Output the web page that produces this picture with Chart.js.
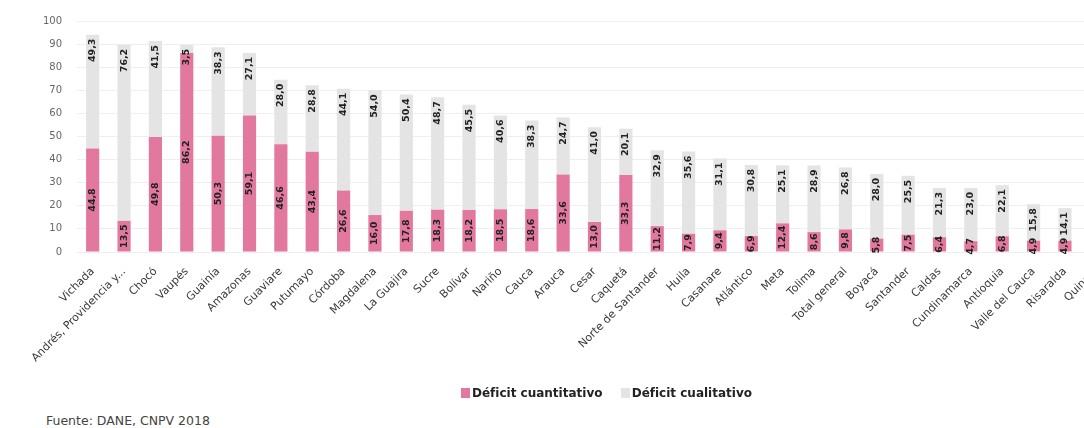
<!DOCTYPE html>
<html lang="es">
<head>
<meta charset="utf-8">
<script src="https://cdn.jsdelivr.net/npm/chart.js@4.4.1/dist/chart.umd.min.js"></script>
<style>
    html, body { margin: 0; padding: 0; background: #fff; overflow: hidden; width: 1084px; height: 428px; }
    #wrap { position: absolute; left: 0; top: 0; width: 1112px; height: 400px; }
    .legend { position: absolute; top: 386px; left: 461px; font: bold 12px "DejaVu Sans", sans-serif; color: #222; white-space: nowrap; }
    .legend span.box { display: inline-block; width: 9px; height: 10px; margin-right: 2px; vertical-align: -1px; }
    .legend span.item { margin-right: 14px; }
    .source { position: absolute; left: 46px; top: 413px; font: 12.5px "DejaVu Sans", sans-serif; color: #444; }
</style>
</head>
<body>
<div id="wrap"><canvas id="deficitChart" width="1112" height="400"></canvas></div>
<div class="legend">
    <span class="item"><span class="box" style="background:#e3789f"></span>Déficit cuantitativo</span>
    <span class="item"><span class="box" style="background:#e4e4e4"></span>Déficit cualitativo</span>
</div>
<div class="source">Fuente: DANE, CNPV 2018</div>
<script>
const departamentos = ['Vichada', 'Andrés, Providencia y...', 'Chocó', 'Vaupés', 'Guainía', 'Amazonas', 'Guaviare',
    'Putumayo', 'Córdoba', 'Magdalena', 'La Guajira', 'Sucre', 'Bolívar', 'Nariño', 'Cauca', 'Arauca', 'Cesar',
    'Caquetá', 'Norte de Santander', 'Huila', 'Casanare', 'Atlántico', 'Meta', 'Tolima', 'Total general', 'Boyacá',
    'Santander', 'Caldas', 'Cundinamarca', 'Antioquia', 'Valle del Cauca', 'Risaralda', 'Quindío'];

const cuantitativo = [44.8, 13.5, 49.8, 86.2, 50.3, 59.1, 46.6, 43.4, 26.6, 16.0, 17.8, 18.3, 18.2, 18.5, 18.6, 33.6, 13.0,
    33.3, 11.2, 7.9, 9.4, 6.9, 12.4, 8.6, 9.8, 5.8, 7.5, 6.4, 4.7, 6.8, 4.9, 4.9, 4.3];

const cualitativo = [49.3, 76.2, 41.5, 3.5, 38.3, 27.1, 28.0, 28.8, 44.1, 54.0, 50.4, 48.7, 45.5, 40.6, 38.3, 24.7, 41.0,
    20.1, 32.9, 35.6, 31.1, 30.8, 25.1, 28.9, 26.8, 28.0, 25.5, 21.3, 23.0, 22.1, 15.8, 14.1, 16.0];

const yTicks = [0, 10, 20, 30, 40, 50, 60, 70, 80, 90, 100];

// value labels written vertically on each segment
const valueLabels = {
    id: 'valueLabels',
    afterDatasetsDraw(chart) {
        const ctx = chart.ctx;
        ctx.save();
        ctx.font = 'bold 9.5px "DejaVu Sans", sans-serif';
        ctx.fillStyle = '#222';
        ctx.textBaseline = 'middle';
        chart.data.datasets.forEach((ds, i) => {
            chart.getDatasetMeta(i).data.forEach((bar, j) => {
                const txt = ds.data[j].toFixed(1).replace('.', ',');
                ctx.save();
                if (i === 0) {
                    ctx.translate(bar.x, (bar.y + bar.base) / 2);
                    ctx.textAlign = 'center';
                } else {
                    ctx.translate(bar.x, bar.y + 4);
                    ctx.textAlign = 'right';
                }
                ctx.rotate(-Math.PI / 2);
                ctx.fillText(txt, 0, 0);
                ctx.restore();
            });
        });
        ctx.restore();
    }
};

const chartCtx = document.getElementById('deficitChart').getContext('2d');
const deficitChart = new Chart(chartCtx, {
    type: 'bar',
    data: {
        labels: departamentos,
        datasets: [{
            label: 'Déficit cuantitativo',
            data: cuantitativo,
            backgroundColor: '#e3789f',
            borderWidth: 0,
            barPercentage: 0.42,
            categoryPercentage: 1
        }, {
            label: 'Déficit cualitativo',
            data: cualitativo,
            backgroundColor: '#e4e4e4',
            borderWidth: 0,
            barPercentage: 0.42,
            categoryPercentage: 1
        }]
    },
    options: {
        responsive: false,
        animation: false,
        devicePixelRatio: 1,
        layout: { padding: { top: 20, left: 0, right: 0, bottom: 0 } },
        plugins: {
            legend: { display: false },
            tooltip: { enabled: false }
        },
        scales: {
            x: {
                stacked: true,
                grid: { display: false },
                border: { display: false },
                ticks: {
                    autoSkip: false,
                    maxRotation: 45,
                    minRotation: 45,
                    padding: 5,
                    color: '#3a3a3a',
                    font: { family: '"DejaVu Sans", sans-serif', size: 11 }
                },
                afterFit: function(scale) { scale.height = 148; }
            },
            y: {
                stacked: true,
                min: 0,
                max: 100,
                afterBuildTicks: function(scale) { scale.ticks = yTicks.map(v => ({ value: v })); },
                grid: { color: '#efefef', drawTicks: false },
                border: { display: false },
                ticks: {
                    padding: 15,
                    color: '#666',
                    font: { family: '"DejaVu Sans", sans-serif', size: 10 }
                },
                afterFit: function(scale) { scale.width = 77; }
            }
        }
    },
    plugins: [valueLabels]
});
</script>
</body>
</html>
